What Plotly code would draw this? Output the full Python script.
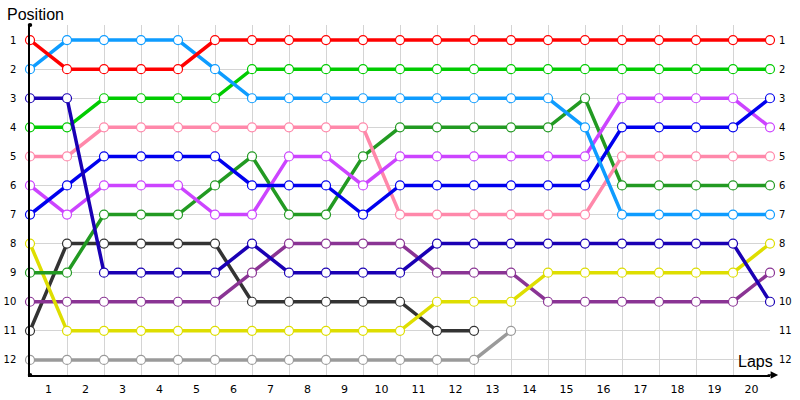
import plotly.graph_objects as go

# positions per lap (lap 0 = start)
laps = list(range(21))

red = [1, 2, 2, 2, 2, 1, 1, 1, 1, 1, 1, 1, 1, 1, 1, 1, 1, 1, 1, 1, 1]
light_blue = [2, 1, 1, 1, 1, 2, 3, 3, 3, 3, 3, 3, 3, 3, 3, 4, 7, 7, 7, 7, 7]
navy = [3, 3, 9, 9, 9, 9, 8, 9, 9, 9, 9, 8, 8, 8, 8, 8, 8, 8, 8, 8, 10]
green = [4, 4, 3, 3, 3, 3, 2, 2, 2, 2, 2, 2, 2, 2, 2, 2, 2, 2, 2, 2, 2]
pink = [5, 5, 4, 4, 4, 4, 4, 4, 4, 4, 7, 7, 7, 7, 7, 7, 5, 5, 5, 5, 5]
violet = [6, 7, 6, 6, 6, 7, 7, 5, 5, 6, 5, 5, 5, 5, 5, 5, 3, 3, 3, 3, 4]
blue = [7, 6, 5, 5, 5, 5, 6, 6, 6, 7, 6, 6, 6, 6, 6, 6, 4, 4, 4, 4, 3]
yellow = [8, 11, 11, 11, 11, 11, 11, 11, 11, 11, 11, 10, 10, 10, 9, 9, 9, 9, 9, 9, 8]
dark_green = [9, 9, 7, 7, 7, 6, 5, 7, 7, 5, 4, 4, 4, 4, 4, 3, 6, 6, 6, 6, 6]
purple = [10, 10, 10, 10, 10, 10, 9, 8, 8, 8, 8, 9, 9, 9, 10, 10, 10, 10, 10, 10, 9]
black = [11, 8, 8, 8, 8, 8, 10, 10, 10, 10, 10, 11, 11]
gray = [12, 12, 12, 12, 12, 12, 12, 12, 12, 12, 12, 12, 12, 11]

series = [
    (gray, "#9a9a9a"),
    (black, "#333333"),
    (purple, "#8a3494"),
    (yellow, "#dede00"),
    (dark_green, "#229a22"),
    (pink, "#ff88aa"),
    (violet, "#cc44ff"),
    (blue, "#0000ee"),
    (green, "#00cc00"),
    (light_blue, "#0e9cff"),
    (navy, "#1a00b4"),
    (red, "#ff0000"),
]

lap_labels = [str(i) for i in range(1, 21)]
pos_labels = [str(i) for i in range(1, 13)]

fig = go.Figure()
for vals, col in series:
    fig.add_trace(go.Scatter(
        x=laps[:len(vals)], y=vals, mode="lines+markers",
        line=dict(color=col, width=3.5),
        marker=dict(symbol="circle", size=9, color="white",
                    line=dict(color=col, width=1.2)),
        cliponaxis=False, showlegend=False, hoverinfo="skip",
    ))

# invisible trace to keep the right-hand position axis
fig.add_trace(go.Scatter(x=[0], y=[1], yaxis="y2", mode="markers",
                         marker=dict(opacity=0), showlegend=False,
                         hoverinfo="skip"))

yrange = [12.52, 0.48]
clear = "rgba(0,0,0,0)"
fig.update_layout(
    width=800, height=400,
    margin=dict(l=30, r=30, t=25, b=25),
    plot_bgcolor="white", paper_bgcolor="white",
    font=dict(family="DejaVu Sans", color="#000000"),
    xaxis=dict(
        range=[0, 20], tickmode="array", automargin=False,
        tickvals=[i - 0.5 for i in range(1, 21)], ticktext=lap_labels,
        showgrid=False, zeroline=False,
        ticks="outside", ticklen=3, tickcolor=clear,
        showline=True, linecolor="black", linewidth=1.5,
        tickfont=dict(size=11),
        minor=dict(tickmode="array", tickvals=laps, showgrid=True,
                   gridcolor="#d4d4d4", gridwidth=1, ticks=""),
    ),
    yaxis=dict(
        range=yrange, tickmode="array", tickvals=list(range(1, 13)),
        ticktext=pos_labels, showgrid=True, gridcolor="#d4d4d4",
        zeroline=False, automargin=False,
        ticks="outside", ticklen=10, tickcolor=clear,
        showline=True, linecolor="black",
        linewidth=1.5, tickfont=dict(size=10),
    ),
    yaxis2=dict(
        range=yrange, overlaying="y", side="right", tickmode="array",
        tickvals=list(range(1, 13)), ticktext=pos_labels,
        showgrid=False, zeroline=False, automargin=False,
        ticks="outside", ticklen=6, tickcolor=clear, showline=False,
        tickfont=dict(size=10),
    ),
    annotations=[
        dict(text="Position", xref="paper", yref="paper", x=-0.034,
             y=1.03, xanchor="left", yanchor="middle", showarrow=False,
             font=dict(family="Liberation Sans", size=16)),
        dict(text="Laps", xref="paper", yref="paper", x=1.007, y=0.04,
             xanchor="right", yanchor="middle", showarrow=False,
             font=dict(family="Liberation Sans", size=16)),
        dict(text="", xref="paper", yref="paper", x=1.011, y=0,
             ax=-12, ay=0, showarrow=True, arrowhead=2, arrowsize=1,
             arrowwidth=1.5, arrowcolor="black"),
    ],
    shapes=[
        dict(type="circle", xref="paper", yref="paper",
             x0=-0.003, x1=0.003, y0=0.994, y1=1.006,
             fillcolor="black", line=dict(width=0)),
        dict(type="circle", xref="paper", yref="paper",
             x0=-0.003, x1=0.003, y0=-0.006, y1=0.006,
             fillcolor="black", line=dict(width=0)),
    ],
)

# page has a default body margin; drop it so the chart sits at 0,0
fig.write_html("out.html", config={"displayModeBar": False},
               post_script="document.body.style.margin='0';")
